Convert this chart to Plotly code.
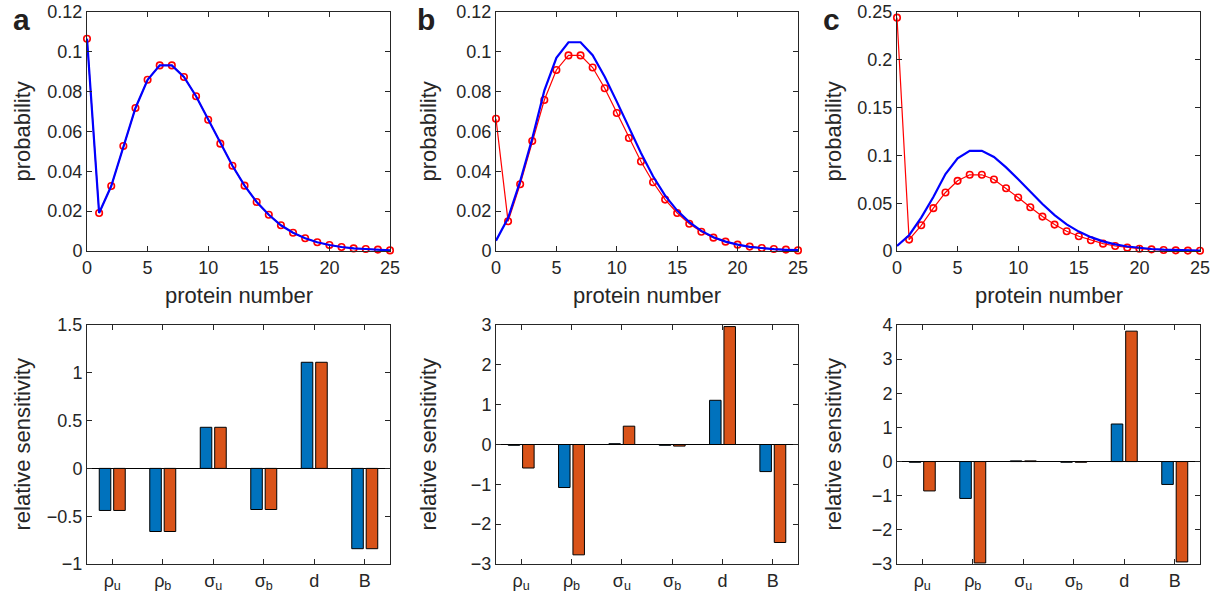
import plotly.graph_objects as go

# ---------------- data ----------------
protein_number = list(range(26))

# panel a
prob_a_red = [0.1066, 0.0191, 0.0326, 0.0527, 0.0718, 0.0860, 0.0932, 0.0932, 0.0874, 0.0777,
              0.0659, 0.0539, 0.0428, 0.0328, 0.0246, 0.0182, 0.0129, 0.0092, 0.0064, 0.0044,
              0.0030, 0.0020, 0.0013, 0.0010, 0.0007, 0.0003]
prob_a_blue = [0.1066, 0.0191, 0.0326, 0.0527, 0.0718, 0.0860, 0.0932, 0.0932, 0.0874, 0.0777,
               0.0659, 0.0539, 0.0428, 0.0328, 0.0246, 0.0182, 0.0129, 0.0092, 0.0064, 0.0044,
               0.0030, 0.0020, 0.0013, 0.0010, 0.0007, 0.0003]
# panel b
prob_b_red = [0.0664, 0.0149, 0.0335, 0.0552, 0.0758, 0.0909, 0.0982, 0.0982, 0.0921, 0.0817,
              0.0693, 0.0567, 0.0449, 0.0345, 0.0258, 0.0191, 0.0137, 0.0097, 0.0067, 0.0047,
              0.0032, 0.0022, 0.0015, 0.0010, 0.0007, 0.0003]
prob_b_blue = [0.0052, 0.0165, 0.0350, 0.0565, 0.0805, 0.0970, 0.1048, 0.1048, 0.0983, 0.0875,
               0.0750, 0.0620, 0.0492, 0.0375, 0.0278, 0.0203, 0.0145, 0.0101, 0.0069, 0.0047,
               0.0032, 0.0021, 0.0014, 0.0009, 0.0006, 0.0004]
# panel c
prob_c_red = [0.2441, 0.0119, 0.0269, 0.0448, 0.0612, 0.0734, 0.0797, 0.0797, 0.0748, 0.0657,
              0.0559, 0.0458, 0.0360, 0.0276, 0.0206, 0.0154, 0.0112, 0.0077, 0.0052, 0.0035,
              0.0024, 0.0017, 0.0010, 0.0007, 0.0004, 0.0002]
prob_c_blue = [0.0052, 0.0165, 0.0350, 0.0565, 0.0805, 0.0970, 0.1048, 0.1048, 0.0983, 0.0875,
               0.0750, 0.0620, 0.0492, 0.0375, 0.0278, 0.0203, 0.0145, 0.0101, 0.0069, 0.0047,
               0.0032, 0.0021, 0.0014, 0.0009, 0.0006, 0.0004]

params = ["ρ<sub>u</sub>", "ρ<sub>b</sub>", "σ<sub>u</sub>", "σ<sub>b</sub>", "d", "B"]
param_pos = [1, 2, 3, 4, 5, 6]

sens_a_blue = [-0.44, -0.66, 0.43, -0.43, 1.11, -0.84]
sens_a_orange = [-0.44, -0.66, 0.43, -0.43, 1.11, -0.84]
sens_b_blue = [-0.02, -1.08, 0.02, -0.02, 1.11, -0.68]
sens_b_orange = [-0.59, -2.77, 0.46, -0.04, 2.96, -2.46]
sens_c_blue = [-0.02, -1.08, 0.02, -0.02, 1.10, -0.67]
sens_c_orange = [-0.86, -2.97, 0.02, -0.02, 3.82, -2.94]

prob_ylims = [[0, 0.12], [0, 0.12], [0, 0.25]]
prob_yticks = [[0, 0.02, 0.04, 0.06, 0.08, 0.1, 0.12],
               [0, 0.02, 0.04, 0.06, 0.08, 0.1, 0.12],
               [0, 0.05, 0.1, 0.15, 0.2, 0.25]]
sens_ylims = [[-1, 1.5], [-3, 3], [-3, 4]]
sens_yticks = [[-1, -0.5, 0, 0.5, 1, 1.5],
               [-3, -2, -1, 0, 1, 2, 3],
               [-3, -2, -1, 0, 1, 2, 3, 4]]
panel_letters = ["a", "b", "c"]

# ---------------- layout geometry (window pixels) ----------------
W, H = 1225, 596
col_px = [(87, 390), (496, 798), (897, 1200)]
top_py = (12, 251)
bot_py = (325, 564)
ytitle_x = [22, 428, 833]
letter_x = [21, 426, 831]

def px(x):
    return x / W

def py(y):
    return 1 - y / H

def xd(a, b):
    return [px(a), px(b)]

def yd(t, b):
    return [py(b), py(t)]

fig = go.Figure()

RED = "#FF0000"
BLUE = "#0000FF"
BAR_BLUE = "#0072BD"
BAR_ORANGE = "#D95319"
AXC = "#262626"
FONT = "Liberation Sans, Arial, sans-serif"

reds = [prob_a_red, prob_b_red, prob_c_red]
blues = [prob_a_blue, prob_b_blue, prob_c_blue]
sb = [sens_a_blue, sens_b_blue, sens_c_blue]
so = [sens_a_orange, sens_b_orange, sens_c_orange]

annotations = []
for i in range(3):
    tx = "x" if i == 0 else f"x{i+1}"
    ty = "y" if i == 0 else f"y{i+1}"
    bx = f"x{i+4}"
    by = f"y{i+4}"
    # top: red markers line, then blue line on top
    fig.add_trace(go.Scatter(x=protein_number, y=reds[i], mode="lines+markers",
                             line=dict(color=RED, width=1.2),
                             marker=dict(symbol="circle-open", size=6.5, color=RED,
                                         line=dict(width=1.6, color=RED)),
                             cliponaxis=False, showlegend=False, xaxis=tx, yaxis=ty))
    fig.add_trace(go.Scatter(x=protein_number, y=blues[i], mode="lines",
                             line=dict(color=BLUE, width=2.2),
                             cliponaxis=False, showlegend=False, xaxis=tx, yaxis=ty))
    # bottom: grouped bars
    fig.add_trace(go.Bar(x=param_pos, y=sb[i], marker=dict(color=BAR_BLUE, line=dict(color="black", width=1)),
                         showlegend=False, xaxis=bx, yaxis=by))
    fig.add_trace(go.Bar(x=param_pos, y=so[i], marker=dict(color=BAR_ORANGE, line=dict(color="black", width=1)),
                         showlegend=False, xaxis=bx, yaxis=by))

    common = dict(showline=True, linecolor=AXC, linewidth=1, mirror="ticks",
                  ticks="inside", ticklen=5, tickwidth=1, tickcolor=AXC, automargin=False,
                  ticklabeloverflow="allow",
                  showgrid=False, tickfont=dict(size=18, color=AXC, family=FONT))
    sfx_t = "" if i == 0 else str(i + 1)
    fig.layout["xaxis" + sfx_t] = dict(domain=xd(*col_px[i]), range=[0, 25], anchor=ty,
                                       tickvals=[0, 5, 10, 15, 20, 25], zeroline=False, **common)
    fig.layout["yaxis" + sfx_t] = dict(domain=yd(*top_py), range=prob_ylims[i], anchor=tx,
                                       tickvals=prob_yticks[i], zeroline=False, **common)
    sfx_b = str(i + 4)
    fig.layout["xaxis" + sfx_b] = dict(domain=xd(*col_px[i]), range=[0.5, 6.5], anchor=by,
                                       tickvals=param_pos, ticktext=params, zeroline=False, **common)
    fig.layout["yaxis" + sfx_b] = dict(domain=yd(*bot_py), range=sens_ylims[i], anchor=bx,
                                       tickvals=sens_yticks[i], zeroline=True,
                                       zerolinecolor="black", zerolinewidth=1, **common)

    # axis titles
    annotations.append(dict(text="probability", x=px(ytitle_x[i]), y=py((top_py[0] + top_py[1]) / 2),
                            xref="paper", yref="paper", showarrow=False, textangle=-90,
                            font=dict(size=22, color=AXC, family=FONT), xanchor="center", yanchor="middle"))
    annotations.append(dict(text="relative sensitivity", x=px(ytitle_x[i]),
                            y=py((bot_py[0] + bot_py[1]) / 2),
                            xref="paper", yref="paper", showarrow=False, textangle=-90,
                            font=dict(size=22, color=AXC, family=FONT), xanchor="center", yanchor="middle"))
    annotations.append(dict(text="protein number", x=px((col_px[i][0] + col_px[i][1]) / 2), y=py(296),
                            xref="paper", yref="paper", showarrow=False,
                            font=dict(size=22, color=AXC, family=FONT), xanchor="center", yanchor="middle"))
    annotations.append(dict(text="<b>" + panel_letters[i] + "</b>", x=px(letter_x[i]), y=py(0.5),
                            xref="paper", yref="paper", showarrow=False,
                            font=dict(size=30, color="#231F20", family=FONT), xanchor="center", yanchor="top"))

fig.update_layout(width=W, height=H, margin=dict(l=0, r=0, t=0, b=0, autoexpand=False),
                  paper_bgcolor="white", plot_bgcolor="white",
                  barmode="group", bargap=0.4286, bargroupgap=0.2,
                  annotations=annotations, font=dict(family=FONT))

fig.write_html("out.html", config={"displayModeBar": False},
               post_script="document.body.style.margin='0';document.body.style.overflow='hidden';")
